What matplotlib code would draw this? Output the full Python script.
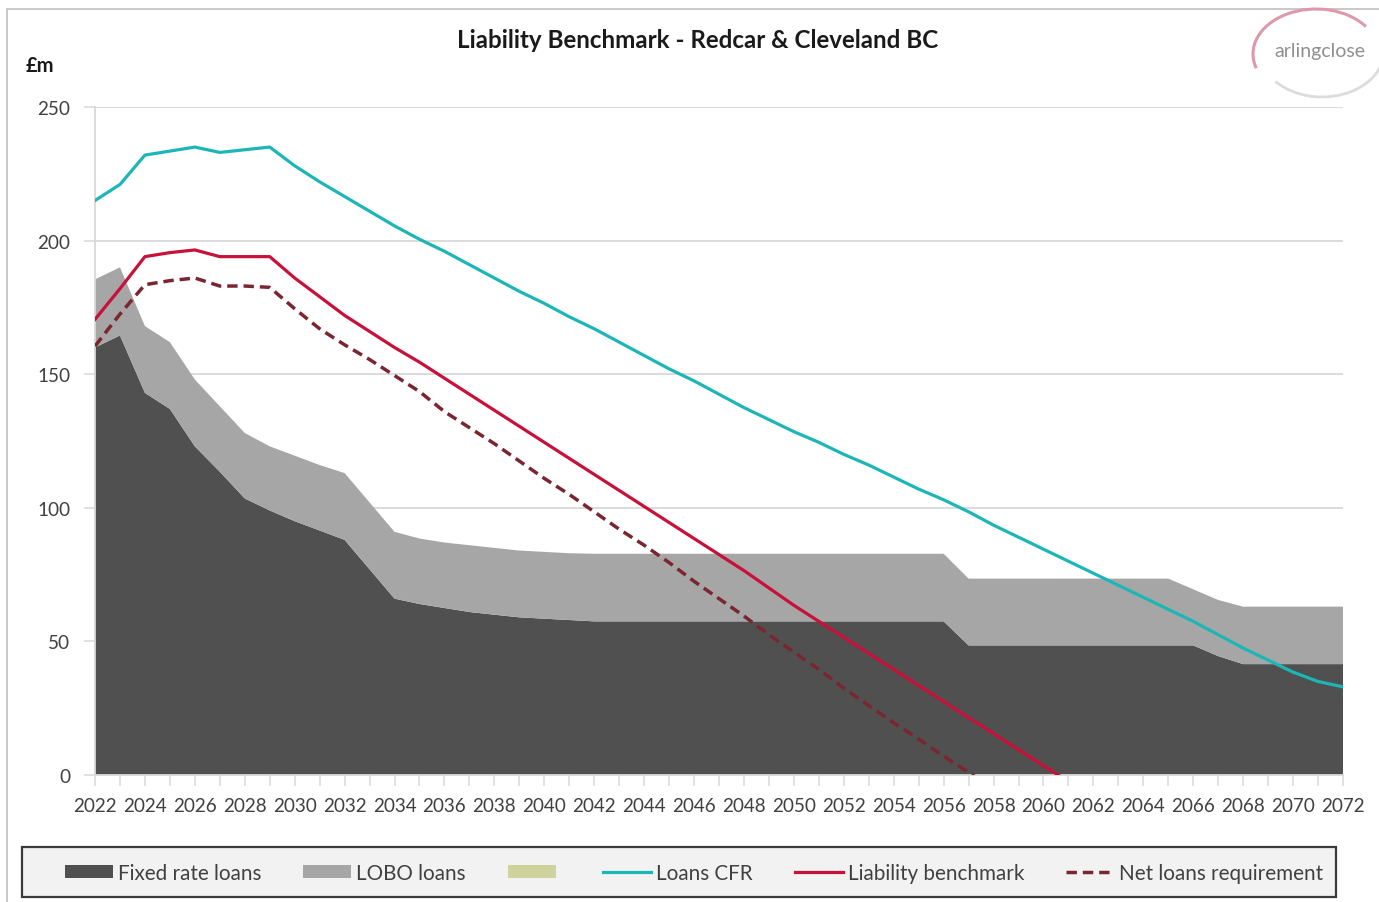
import numpy as np
import matplotlib
matplotlib.use("Agg")
import matplotlib.pyplot as plt
from matplotlib.patches import Patch, Rectangle, Arc
from matplotlib.lines import Line2D
from matplotlib.ticker import MultipleLocator

plt.rcParams['font.family'] = ['Lato', 'DejaVu Sans']

# ---------------- data ----------------
years = list(range(2022, 2073))

fixed_rate_loans = [160, 164.5, 143, 137, 123, 113.5, 103.5, 99, 95, 91.5,
                    88, 77, 66, 64, 62.5, 61, 60, 59, 58.5, 58,
                    57.5, 57.5, 57.5, 57.5, 57.5, 57.5, 57.5, 57.5, 57.5, 57.5,
                    57.5, 57.5, 57.5, 57.5, 57.5, 48.5, 48.5, 48.5, 48.5, 48.5,
                    48.5, 48.5, 48.5, 48.5, 48.5, 44.5, 41.5, 41.5, 41.5, 41.5,
                    41.5]

lobo_loans = [25.5, 25.5, 25, 25, 25, 24.5, 24.5, 24, 24.5, 24.5,
              25, 25, 25, 24.5, 24.5, 25, 25, 25, 25, 25,
              25.3, 25.3, 25.3, 25.3, 25.3, 25.3, 25.3, 25.3, 25.3, 25.3,
              25.3, 25.3, 25.3, 25.3, 25.3, 25, 25, 25, 25, 25,
              25, 25, 25, 25, 21, 21, 21.5, 21.5, 21.5, 21.5,
              21.5]

loans_cfr = [215, 221, 232, 233.5, 235, 233, 234, 235, 228, 222,
             216.5, 211, 205.5, 200.5, 196, 191, 186, 181, 176.5, 171.5,
             167, 162, 157, 152, 147.5, 142.5, 137.5, 133, 128.5, 124.5,
             120, 116, 111.5, 107, 103, 98.5, 93.5, 89, 84.5, 80,
             75.5, 71, 66.5, 62, 57.5, 52.5, 47.5, 43, 38.5, 35,
             33]

liability_benchmark = [170.5, 182, 194, 195.5, 196.5, 194, 194, 194, 186, 179,
                       172, 166, 160, 154.5, 148.5, 142.5, 136.5, 130.5, 124.5, 118.5,
                       112.5, 106.5, 100.5, 94.5, 88.5, 82.5, 76.5, 70, 63.5, 57.5,
                       51.5, 45.5, 39.5, 33.5, 27.5, 21.5, 15.5, 9.5, 3.5, -2.5,
                       None, None, None, None, None, None, None, None, None, None,
                       None]

net_loans_requirement = [160.5, 172.5, 183.5, 185, 186, 183, 183, 182.5, 174.5, 167,
                         161, 155.5, 149.5, 143.5, 136, 130, 124, 117.5, 111, 105,
                         98.5, 92, 86, 79.5, 72.5, 66, 59.5, 52.5, 46, 39.5,
                         32.5, 26, 19.5, 13.5, 7, 1, -5.5, None, None, None,
                         None, None, None, None, None, None, None, None, None, None,
                         None]

legend_labels = ["Fixed rate loans", "LOBO loans", "", "Loans CFR",
                 "Liability benchmark", "Net loans requirement"]
title = "Liability Benchmark - Redcar & Cleveland BC"
y_unit = "£m"

# ---------------- styles ----------------
c_fixed = "#505050"
c_lobo = "#a6a6a6"
c_other = "#cfd29a"
c_cfr = "#1db6b7"
c_lb = "#c8113a"
c_nlr = "#7a2630"
c_text = "#404040"
c_grid = "#d9d9d9"
fs_tick = 13.6
fs_leg = 14.9
fs_title = 17.4

W, H = 1379, 903
fig = plt.figure(figsize=(W / 100, H / 100), dpi=100)
fig.patch.set_facecolor("white")

def fx(px):
    return px / W

def fy(py):
    return 1 - py / H

ax = fig.add_axes([fx(95), fy(776), fx(1343) - fx(95), fy(108) - fy(776)])

yrs = np.array(years, dtype=float)
ax.stackplot(yrs, np.array(fixed_rate_loans, dtype=float), np.array(lobo_loans, dtype=float),
             colors=[c_fixed, c_lobo], linewidth=0, zorder=2)

lw = 2.3
dash = (3.0, 1.7)
ax.plot(yrs, np.array(loans_cfr, dtype=float), color=c_cfr, lw=lw, zorder=4,
        solid_joinstyle="round")
ax.plot(yrs, np.array(liability_benchmark, dtype=float), color=c_lb, lw=lw, zorder=4,
        solid_joinstyle="round")
ax.plot(yrs, np.array(net_loans_requirement, dtype=float), color=c_nlr, lw=2.5, zorder=4,
        dashes=dash, dash_capstyle="butt")

ax.set_xlim(2022, 2072)
ax.set_ylim(0, 250)
ax.yaxis.set_major_locator(MultipleLocator(50))
ax.xaxis.set_major_locator(MultipleLocator(2))
ax.xaxis.set_minor_locator(MultipleLocator(1))
ax.grid(axis="y", color=c_grid, lw=1.3, zorder=0)
ax.set_axisbelow(True)
for s in ["top", "right"]:
    ax.spines[s].set_visible(False)
ax.spines["left"].set_color(c_grid)
ax.spines["left"].set_linewidth(1.3)
ax.spines["bottom"].set_color(c_grid)
ax.spines["bottom"].set_linewidth(1.3)
ax.tick_params(axis="both", which="both", direction="out", length=8, width=1.1,
               color=c_grid, labelcolor=c_text, labelsize=fs_tick)
ax.tick_params(axis="y", pad=10)
ax.tick_params(axis="x", pad=8)
ax.set_xticks(range(2022, 2073, 2))
ax.set_xticklabels([str(y) for y in range(2022, 2073, 2)])

# title and unit
fig.text(fx(698), fy(41), title, ha="center", va="center", fontsize=fs_title,
         fontweight="bold", color="#1a1a1a")
fig.text(fx(26), fy(66), y_unit, ha="left", va="center", fontsize=14.5,
         fontweight="bold", color="#1a1a1a")

# outer chart border
fig.patches.append(Rectangle((fx(7), -0.05), 1.2, fy(10) + 0.05, transform=fig.transFigure,
                             facecolor="none", edgecolor="#c0c0c0", lw=1.2, zorder=0))

# legend frame
fig.patches.append(Rectangle((fx(22), fy(898)), fx(1336) - fx(22), fy(848) - fy(898),
                             transform=fig.transFigure, facecolor="#f2f2f2",
                             edgecolor="#3a3a3a", lw=1.6, zorder=1))

fs_px = fs_leg * 100 / 72
handles = [Patch(facecolor=c_fixed, edgecolor="none"),
           Patch(facecolor=c_lobo, edgecolor="none"),
           Patch(facecolor=c_other, edgecolor="none"),
           Line2D([], [], color=c_cfr, lw=lw),
           Line2D([], [], color=c_lb, lw=lw),
           Line2D([], [], color=c_nlr, lw=2.5, dashes=dash)]
leg = fig.legend(handles, legend_labels, loc="center left",
                 bbox_to_anchor=(fx(65), fy(874)), ncol=6, frameon=False,
                 fontsize=fs_leg, borderpad=0, borderaxespad=0,
                 handlelength=48 / fs_px, handleheight=12 / fs_px,
                 handletextpad=5 / fs_px, columnspacing=42 / fs_px)
for t in leg.get_texts():
    t.set_color(c_text)

# logo
fig.patches.append(Arc((fx(1316), fy(55)), fx(126), 90 / H, theta1=40, theta2=200,
                       transform=fig.transFigure, color="#dd98ab", lw=2.2, zorder=3))
fig.patches.append(Arc((fx(1322), fy(52)), fx(124), 92 / H, theta1=225, theta2=380,
                       transform=fig.transFigure, color="#dcdcdc", lw=2.0, zorder=3))
fig.text(fx(1320), fy(52), "arlingclose", ha="center", va="center", fontsize=14,
         color="#8f8f8f")

fig.savefig("out.png", dpi=100)
